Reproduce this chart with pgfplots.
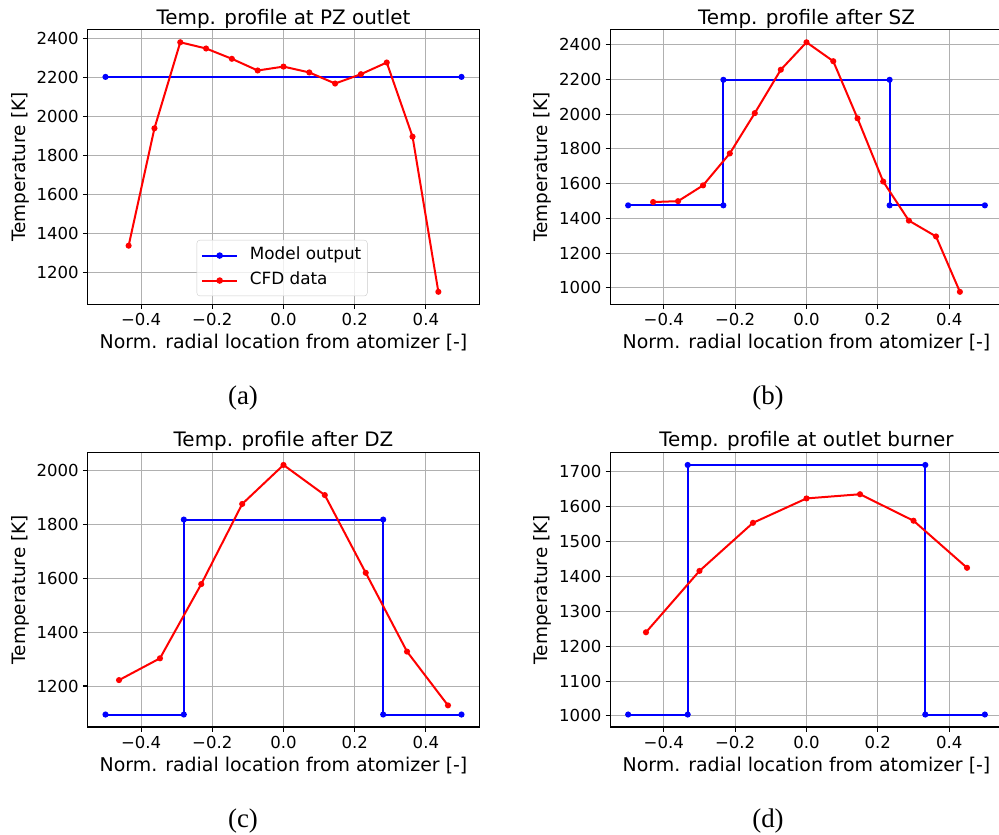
\documentclass[border=0pt]{standalone}
\usepackage{fontspec}
\setmainfont{DejaVu Sans}
\newfontfamily\capfont{Liberation Serif}
\usepackage{pgfplots}
\pgfplotsset{compat=1.18}

\definecolor{gridgray}{RGB}{176,176,176}
\definecolor{legframe}{RGB}{204,204,204}

\pgfplotsset{
  tempaxis/.style={
    scale only axis,
    height=274.5bp,
    xmin=-0.55, xmax=0.55,
    xtick={-0.4,-0.2,0,0.2,0.4},
    xticklabels={−0.4,−0.2,0.0,0.2,0.4},
    grid=major,
    major grid style={gridgray, line width=1bp},
    axis line style={black, line width=1.1bp},
    tick align=outside,
    tick pos=left,
    major tick length=4.8bp,
    every tick/.append style={black, line width=1.1bp},
    ticklabel style={font=\fontsize{16.6}{19}\selectfont},
    yticklabel style={anchor=east, inner sep=0pt, xshift=-4bp},
    xticklabel style={anchor=base, inner sep=0pt, yshift=-16.9bp},
    /pgf/number format/assume math mode=true,
    /pgf/number format/1000 sep={},
    scaled ticks=false,
    every axis title shift=0pt,
    title style={font=\fontsize{20}{24}\selectfont, at={(0.5,1)}, anchor=base, yshift=5.7bp, inner sep=0pt},
    xlabel style={font=\fontsize{19}{22}\selectfont, at={(axis description cs:0.5,0)}, anchor=base, yshift=-44bp, inner sep=0pt},
    ylabel style={font=\fontsize{18.5}{22}\selectfont, at={(axis description cs:-0.159,0.5)}, anchor=base, inner sep=0pt},
    xlabel={Norm. radial location from atomizer [-]},
    ylabel={Temperature [K]},
    % legend sample: a short line with one dot in its middle
    legend image code/.code={
      \draw[#1, mark=none, line width=2bp] (0bp,0bp) -- (35.6bp,0bp);
      \fill[#1] (17.8bp,0bp) circle[radius=2.2bp];
    },
  },
  model/.style={blue, line width=2bp, mark=*, mark size=2bp, mark options={solid}},
  cfd/.style={red, line width=2bp, mark=*, mark size=2bp, mark options={solid}},
}

\begin{document}
\begin{tikzpicture}

% (a) primary zone outlet
\begin{axis}[tempaxis, width=391.6bp, at={(87.7bp,530.7bp)}, anchor=south west,
  title={Temp. profile at PZ outlet},
  ymin=1035.9, ymax=2446.1, ytick={1200,1400,1600,1800,2000,2200,2400},
  legend style={at={(0.2783,0.2344)}, anchor=north west, draw=legframe, rounded corners=3bp,
    fill=white, fill opacity=0.8, text opacity=1, font=\fontsize{16.9}{20}\selectfont,
    inner xsep=4bp, inner ysep=5bp, row sep=4.2bp, column sep=9.4bp,
    nodes={inner sep=2bp, text height=12.8bp, text depth=4bp}},
  legend cell align=left]
\addplot[model] coordinates {(-0.5,2204) (0.5,2204)};
\addlegendentry{Model output}
\addplot[cfd] coordinates {
  (-0.435,1337) (-0.3625,1940) (-0.29,2382) (-0.2175,2350) (-0.145,2297)
  (-0.0725,2237) (0,2257) (0.0725,2227) (0.145,2170) (0.2175,2218)
  (0.29,2278) (0.3625,1897) (0.435,1100)};
\addlegendentry{CFD data}
\end{axis}

% (b) after secondary zone
\begin{axis}[tempaxis, width=392.4bp, at={(610.3bp,530.7bp)}, anchor=south west,
  title={Temp. profile after SZ},
  ymin=905.2, ymax=2485.9, ytick={1000,1200,1400,1600,1800,2000,2200,2400}]
\addplot[model] coordinates {(-0.5,1475) (-0.233,1475) (-0.233,2198) (0.233,2198) (0.233,1475) (0.5,1475)};
\addplot[cfd] coordinates {
  (-0.43,1494) (-0.36,1499) (-0.29,1590) (-0.215,1774) (-0.145,2006)
  (-0.072,2256) (0,2414) (0.075,2305) (0.143,1976) (0.215,1612)
  (0.287,1387) (0.363,1296) (0.43,977)};
\end{axis}

% (c) after dilution zone
\begin{axis}[tempaxis, width=391.6bp, at={(87.7bp,108bp)}, anchor=south west,
  title={Temp. profile after DZ},
  ymin=1047.6, ymax=2068.4, ytick={1200,1400,1600,1800,2000}]
\addplot[model] coordinates {(-0.5,1094) (-0.28,1094) (-0.28,1819) (0.28,1819) (0.28,1094) (0.5,1094)};
\addplot[cfd] coordinates {
  (-0.462,1222) (-0.347,1303) (-0.231,1579) (-0.116,1877) (0,2022)
  (0.116,1910) (0.231,1621) (0.347,1328) (0.462,1128)};
\end{axis}

% (d) burner outlet
\begin{axis}[tempaxis, width=392.4bp, at={(610.3bp,108bp)}, anchor=south west,
  title={Temp. profile at outlet burner},
  ymin=968.2, ymax=1755.8, ytick={1000,1100,1200,1300,1400,1500,1600,1700}]
\addplot[model] coordinates {(-0.5,1004) (-0.333,1004) (-0.333,1720) (0.333,1720) (0.333,1004) (0.5,1004)};
\addplot[cfd] coordinates {
  (-0.45,1240) (-0.3,1416) (-0.15,1554) (0,1624) (0.15,1636) (0.3,1560) (0.45,1425)};
\end{axis}

% sub-figure captions
\begin{scope}[every node/.style={font=\capfont\fontsize{27}{31}\selectfont, anchor=base, inner sep=0pt}]
\node at (243bp,430bp) {(a)};
\node at (768bp,430bp) {(b)};
\node at (243bp,7.7bp) {(c)};
\node at (768bp,7.7bp) {(d)};
\end{scope}

\pgfresetboundingbox
\path[use as bounding box] (0,0) rectangle (999bp,835bp);
\end{tikzpicture}
\end{document}
